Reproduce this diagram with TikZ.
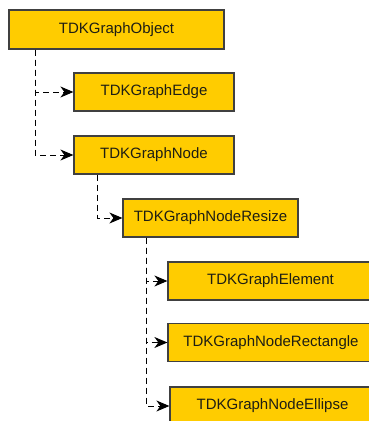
\documentclass[tikz,border=0pt]{standalone}
\usepackage{fontspec}
\setmainfont{Liberation Sans}
\usetikzlibrary{arrows.meta, calc}
\definecolor{class-fill}{RGB}{255,204,0}
\definecolor{class-draw}{RGB}{64,64,64}
\definecolor{class-text}{RGB}{30,30,20}
\tikzset{cls/.style={draw=class-draw, fill=class-fill, line width=1.2pt, text=class-text, minimum height=38pt, inner sep=0pt, font=\fontsize{15}{18}\selectfont},
         inherit/.style={->, >={Stealth[length=13pt, width=11pt, inset=4pt]}, dash pattern=on 6pt off 4pt, line width=1pt}}

\begin{document}
\begin{tikzpicture}[x=1pt, y=-1pt]
    % Canvas - boxes on the right run past the edge
    \useasboundingbox (0,0) rectangle (369,421);
    \clip (0,0) rectangle (369,421);
    \fill[white] (0,0) rectangle (369,421);

    % Class boxes
    \node[cls, minimum width=215pt, minimum height=39pt] (object) at (116.5,29.5) {TDKGraphObject};
    \node[cls, minimum width=160pt] (edge) at (154,92) {TDKGraphEdge};
    \node[cls, minimum width=160pt] (gnode) at (154,155) {TDKGraphNode};
    \node[cls, minimum width=175pt] (resize) at (210.5,218) {TDKGraphNodeResize};
    \node[cls, minimum width=205pt] (element) at (270.5,281) {TDKGraphElement};
    \node[cls, minimum width=206pt] (rectangle) at (271,342.5) {TDKGraphNodeRectangle};
    \node[cls, minimum width=205pt] (ellipse) at (272.5,406) {TDKGraphNodeEllipse};

    % Inheritance links
    \draw[inherit] ([xshift=27pt]object.south west) |- (edge.west);
    \draw[inherit] ([xshift=27pt]object.south west) |- (gnode.west);
    \draw[inherit] ([xshift=24pt]gnode.south west) |- (resize.west);
    \draw[inherit] ([xshift=24pt]resize.south west) |- (element.west);
    \draw[inherit] ([xshift=24pt]resize.south west) |- (rectangle.west);
    \draw[inherit] ([xshift=24pt]resize.south west) |- (ellipse.west);
\end{tikzpicture}
\end{document}
